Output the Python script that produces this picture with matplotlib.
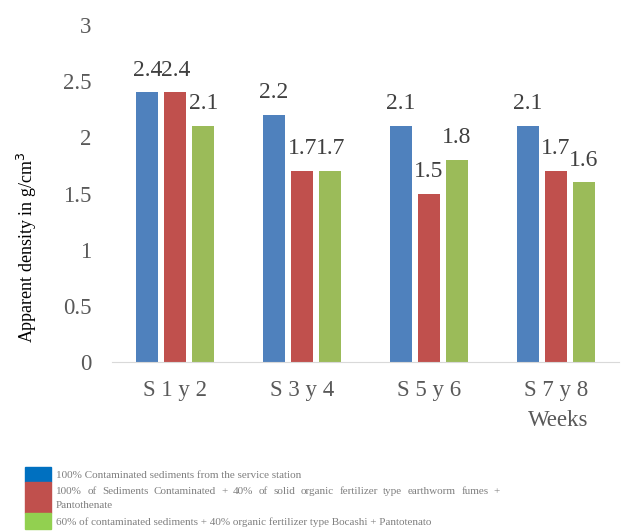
import numpy as np
import matplotlib.pyplot as plt
from matplotlib.patches import Rectangle

plt.rcParams['font.family'] = ['Liberation Serif', 'DejaVu Serif']

groups = ["S 1 y 2", "S 3 y 4", "S 5 y 6", "S 7 y 8"]
station = [2.4, 2.2, 2.1, 2.1]
earthworm = [2.4, 1.7, 1.5, 1.7]
bocashi = [2.1, 1.7, 1.8, 1.6]

series_names = [
    "100% Contaminated sediments from the service station",
    "100% of Sediments Contaminated + 40% of solid organic fertilizer type earthworm fumes +\nPantothenate",
    "60% of contaminated sediments + 40% organic fertilizer type Bocashi + Pantotenato",
]
bar_colors = ["#4F81BD", "#C0504D", "#9BBB59"]
legend_colors = ["#0070C0", "#C0504D", "#92D050"]

W, H = 636, 531
fig = plt.figure(figsize=(W / 100, H / 100), dpi=100)
ax = fig.add_axes([112 / W, 1 - 362 / H, 507 / W, 337 / H])

x = np.arange(len(groups))
width = 0.174
step = 0.221
for i, vals in enumerate([station, earthworm, bocashi]):
    pos = x + (i - 1) * step
    ax.bar(pos, vals, width, color=bar_colors[i], zorder=2)
    for p, v in zip(pos, vals):
        ax.annotate(f"{v:g}", (p, v), xytext=(0, 12), textcoords="offset points",
                    ha="center", va="baseline", fontsize=17, color="#404040")

ax.set_xlim(-0.5, len(groups) - 0.5)
ax.set_ylim(0, 3)
ax.set_yticks(np.arange(0, 3.01, 0.5))
ax.set_yticklabels(["0", "0.5", "1", "1.5", "2", "2.5", "3"])
ax.set_xticks(x)
ax.set_xticklabels(groups)
ax.tick_params(axis="both", length=0, labelsize=16.5, colors="#595959")
ax.tick_params(axis="y", pad=15)
ax.tick_params(axis="x", pad=13)
for s in ["top", "right", "left"]:
    ax.spines[s].set_visible(False)
ax.spines["bottom"].set_color("#D9D9D9")

fig.text(27 / W, 1 - 247 / H, "Apparent density in g/cm$^3$", rotation=90, ha="center", va="center",
         fontsize=13, color="black")
fig.text(558 / W, 1 - 420 / H, "Weeks", ha="center", va="center", fontsize=16.5, color="#595959")

# legend drawn by hand, second entry justified like the original
boxes = [(467, 482), (482, 513), (513, 529)]
text_y = [475, 492, 522]
leg_fs = 8.0
leg_col = "#7F7F7F"
renderer = fig.canvas.get_renderer()
for (y0, y1), c, name, ty in zip(boxes, legend_colors, series_names, text_y):
    fig.patches.append(Rectangle((25 / W, 1 - y1 / H), 26 / W, (y1 - y0) / H,
                                 transform=fig.transFigure, color=c))
    if "\n" in name:
        first, second = name.split("\n")
        words = first.split(" ")
        widths = []
        for w in words:
            t = fig.text(0, 0, w, fontsize=leg_fs)
            widths.append(t.get_window_extent(renderer).width)
            t.remove()
        gap = (500 - 56 - sum(widths)) / (len(words) - 1)
        xp = 56
        for w, wd in zip(words, widths):
            fig.text(xp / W, 1 - 492 / H, w, ha="left", va="center", fontsize=leg_fs, color=leg_col)
            xp += wd + gap
        fig.text(56 / W, 1 - 506 / H, second, ha="left", va="center", fontsize=leg_fs, color=leg_col)
    else:
        fig.text(56 / W, 1 - ty / H, name, ha="left", va="center", fontsize=leg_fs, color=leg_col)

fig.savefig("out.png", dpi=100)
